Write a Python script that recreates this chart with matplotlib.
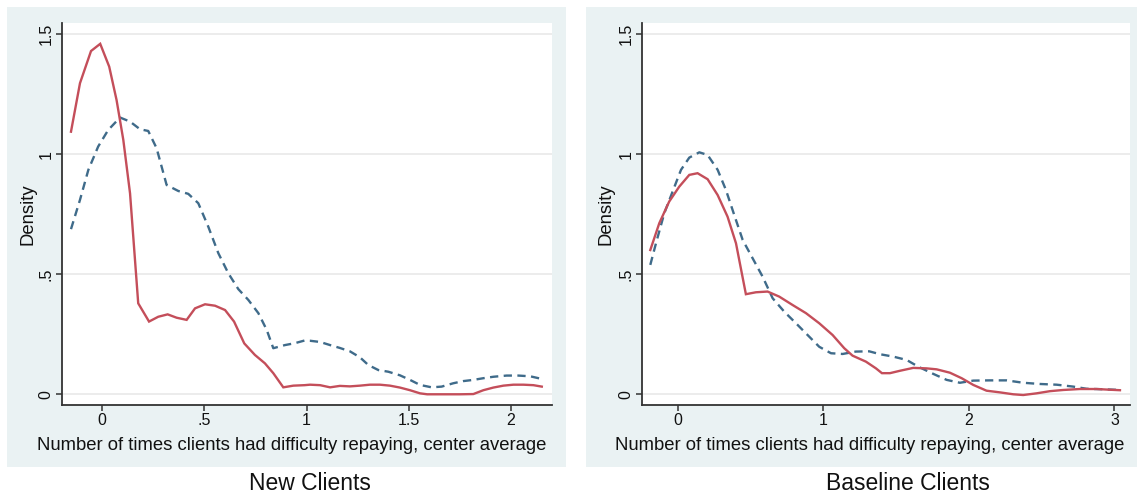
"""Kernel density of repayment difficulty, new vs baseline clients (two panels)."""

import matplotlib

matplotlib.use("Agg")
import matplotlib.pyplot as plt
from matplotlib.patches import Rectangle

plt.rcParams["font.family"] = ["Liberation Sans", "DejaVu Sans"]

XLABEL = "Number of times clients had difficulty repaying, center average"
YLABEL = "Density"
PANEL_TITLES = ["New Clients", "Baseline Clients"]

Y_TICKS = [0, 0.5, 1, 1.5]
Y_TICK_LABELS = ["0", ".5", "1", "1.5"]
NEW_X_TICKS = [0, 0.5, 1, 1.5, 2]
NEW_X_TICK_LABELS = ["0", ".5", "1", "1.5", "2"]
BASE_X_TICKS = [0, 1, 2, 3]
BASE_X_TICK_LABELS = ["0", "1", "2", "3"]

# New clients, solid (red) curve
new_solid_x = [-0.153, -0.109, -0.055, -0.010, 0.034, 0.070, 0.103, 0.136,
               0.176, 0.229, 0.274, 0.320, 0.364, 0.413, 0.454, 0.503,
               0.552, 0.601, 0.645, 0.695, 0.747, 0.796, 0.837, 0.886,
               0.935, 0.990, 1.017, 1.066, 1.115, 1.163, 1.212, 1.261,
               1.310, 1.359, 1.408, 1.457, 1.506, 1.555, 1.590, 1.650,
               1.750, 1.816, 1.865, 1.914, 1.963, 2.012, 2.061, 2.110, 2.151]
new_solid_y = [1.094, 1.296, 1.430, 1.460, 1.365, 1.226, 1.060, 0.837,
               0.379, 0.303, 0.323, 0.333, 0.319, 0.310, 0.358, 0.375,
               0.369, 0.351, 0.303, 0.212, 0.164, 0.129, 0.088, 0.029,
               0.036, 0.038, 0.040, 0.038, 0.029, 0.035, 0.033, 0.036,
               0.040, 0.040, 0.036, 0.028, 0.017, 0.004, 0.000, 0.000,
               0.000, 0.001, 0.017, 0.028, 0.036, 0.040, 0.040, 0.038, 0.032]

# New clients, dashed (blue) curve
new_dash_x = [-0.153, -0.109, -0.068, -0.020, 0.029, 0.087, 0.136, 0.185,
              0.225, 0.266, 0.315, 0.372, 0.421, 0.470, 0.519, 0.568,
              0.617, 0.666, 0.715, 0.764, 0.805, 0.837, 0.894, 0.943,
              0.990, 1.017, 1.066, 1.115, 1.163, 1.212, 1.261, 1.302,
              1.351, 1.400, 1.457, 1.506, 1.555, 1.612, 1.661, 1.718,
              1.767, 1.816, 1.865, 1.914, 1.979, 2.036, 2.094, 2.151]
new_dash_y = [0.688, 0.810, 0.935, 1.032, 1.101, 1.153, 1.136, 1.104,
              1.097, 1.025, 0.872, 0.847, 0.835, 0.796, 0.698, 0.588,
              0.504, 0.438, 0.393, 0.338, 0.268, 0.192, 0.205, 0.213,
              0.224, 0.223, 0.218, 0.205, 0.193, 0.179, 0.154, 0.122,
              0.101, 0.094, 0.079, 0.060, 0.039, 0.029, 0.032, 0.046,
              0.055, 0.060, 0.067, 0.073, 0.078, 0.078, 0.075, 0.064]

# Baseline clients, solid (red) curve
base_solid_x = [-0.190, -0.128, -0.060, 0.009, 0.078, 0.135, 0.204, 0.273,
                0.341, 0.399, 0.467, 0.536, 0.616, 0.696, 0.788, 0.880,
                0.971, 1.063, 1.143, 1.200, 1.292, 1.361, 1.402, 1.457,
                1.526, 1.617, 1.709, 1.778, 1.869, 1.950, 2.030, 2.121,
                2.213, 2.305, 2.373, 2.465, 2.557, 2.648, 2.763, 2.877,
                2.969, 3.038]
base_solid_y = [0.601, 0.713, 0.803, 0.865, 0.914, 0.921, 0.896, 0.830,
                0.740, 0.629, 0.417, 0.425, 0.428, 0.407, 0.372, 0.338,
                0.296, 0.247, 0.192, 0.161, 0.136, 0.108, 0.088, 0.088,
                0.098, 0.110, 0.108, 0.104, 0.090, 0.067, 0.039, 0.015,
                0.008, 0.000, -0.003, 0.004, 0.013, 0.018, 0.022, 0.022,
                0.019, 0.017]

# Baseline clients, dashed (blue) curve
base_dash_x = [-0.190, -0.151, -0.094, -0.037, 0.021, 0.078, 0.147, 0.204,
               0.273, 0.330, 0.387, 0.445, 0.513, 0.582, 0.651, 0.731,
               0.811, 0.891, 0.971, 1.052, 1.132, 1.223, 1.315, 1.388,
               1.480, 1.572, 1.652, 1.755, 1.847, 1.938, 2.030, 2.144,
               2.259, 2.373, 2.488, 2.603, 2.717, 2.809, 2.923, 3.038]
base_dash_y = [0.539, 0.629, 0.754, 0.844, 0.935, 0.986, 1.008, 0.997,
               0.935, 0.851, 0.747, 0.643, 0.567, 0.490, 0.400, 0.344,
               0.296, 0.247, 0.198, 0.171, 0.168, 0.178, 0.179, 0.167,
               0.157, 0.143, 0.115, 0.085, 0.060, 0.048, 0.057, 0.058,
               0.058, 0.048, 0.043, 0.040, 0.032, 0.023, 0.021, 0.018]

RED = "#c44e5a"
BLUE = "#3f6b8a"
REGION_BG = "#eaf2f3"
AXIS_COLOR = "#333333"

W, H = 1137, 498


def _px_box(x0, y0, x1, y1):
    """Pixel box (top-left origin) -> figure-fraction [left, bottom, w, h]."""
    return [x0 / W, 1 - y1 / H, (x1 - x0) / W, (y1 - y0) / H]


def _panel(fig, box, xlim, xticks, xticklabels, curves, xlabel_x, ylabel_x):
    ax = fig.add_axes(box)
    ax.set_facecolor("white")
    for x, y, color, ls in curves:
        ax.plot(x, y, color=color, linestyle=ls, linewidth=1.7,
                solid_joinstyle="miter", zorder=3)
    ax.set_xlim(*xlim)
    ax.set_ylim(-0.0446, 1.548)
    ax.set_yticks(Y_TICKS)
    ax.set_yticklabels(Y_TICK_LABELS, rotation=90, va="center")
    ax.set_xticks(xticks)
    ax.set_xticklabels(xticklabels)
    ax.grid(axis="y", color="#e9e9e9", linewidth=1.2, zorder=0)
    for side in ("top", "right"):
        ax.spines[side].set_visible(False)
    for side in ("left", "bottom"):
        ax.spines[side].set_color(AXIS_COLOR)
        ax.spines[side].set_linewidth(1.3)
    ax.tick_params(axis="both", direction="out", length=4, width=1.1,
                   color=AXIS_COLOR, labelsize=11.5, labelcolor="#111111")
    ax.tick_params(axis="x", pad=2)
    ax.tick_params(axis="y", pad=2)
    ax.set_xlabel(XLABEL, fontsize=13.3, color="#111111")
    ax.xaxis.set_label_coords(xlabel_x, -0.085)
    ax.set_ylabel(YLABEL, fontsize=13.3, color="#111111")
    ax.yaxis.set_label_coords(ylabel_x, 0.5)
    return ax


def main() -> None:
    fig = plt.figure(figsize=(W / 100, H / 100), dpi=100)
    fig.patch.set_facecolor("white")

    # graph-region backgrounds
    for x0, x1 in ((7, 566), (586, 1137)):
        l, b, w, h = _px_box(x0, 7, x1, 467)
        fig.add_artist(Rectangle((l, b), w, h, transform=fig.transFigure,
                                 facecolor=REGION_BG, edgecolor="none",
                                 zorder=-10))

    _panel(fig, _px_box(62, 22.7, 552, 405), (-0.197, 2.201),
           NEW_X_TICKS, NEW_X_TICK_LABELS,
           [(new_dash_x, new_dash_y, BLUE, (0, (3.5, 2.3))),
            (new_solid_x, new_solid_y, RED, "-")],
           xlabel_x=0.469, ylabel_x=-0.053)
    _panel(fig, _px_box(642, 22.7, 1130, 405), (-0.247, 3.107),
           BASE_X_TICKS, BASE_X_TICK_LABELS,
           [(base_dash_x, base_dash_y, BLUE, (0, (3.5, 2.3))),
            (base_solid_x, base_solid_y, RED, "-")],
           xlabel_x=0.467, ylabel_x=-0.057)

    fig.text(310 / W, 1 - 483 / H, PANEL_TITLES[0], ha="center",
             va="center", fontsize=16.5, color="#111111")
    fig.text(908 / W, 1 - 483 / H, PANEL_TITLES[1], ha="center",
             va="center", fontsize=16.5, color="#111111")

    fig.savefig("out.png", dpi=100)
    plt.close(fig)


if __name__ == "__main__":
    main()
